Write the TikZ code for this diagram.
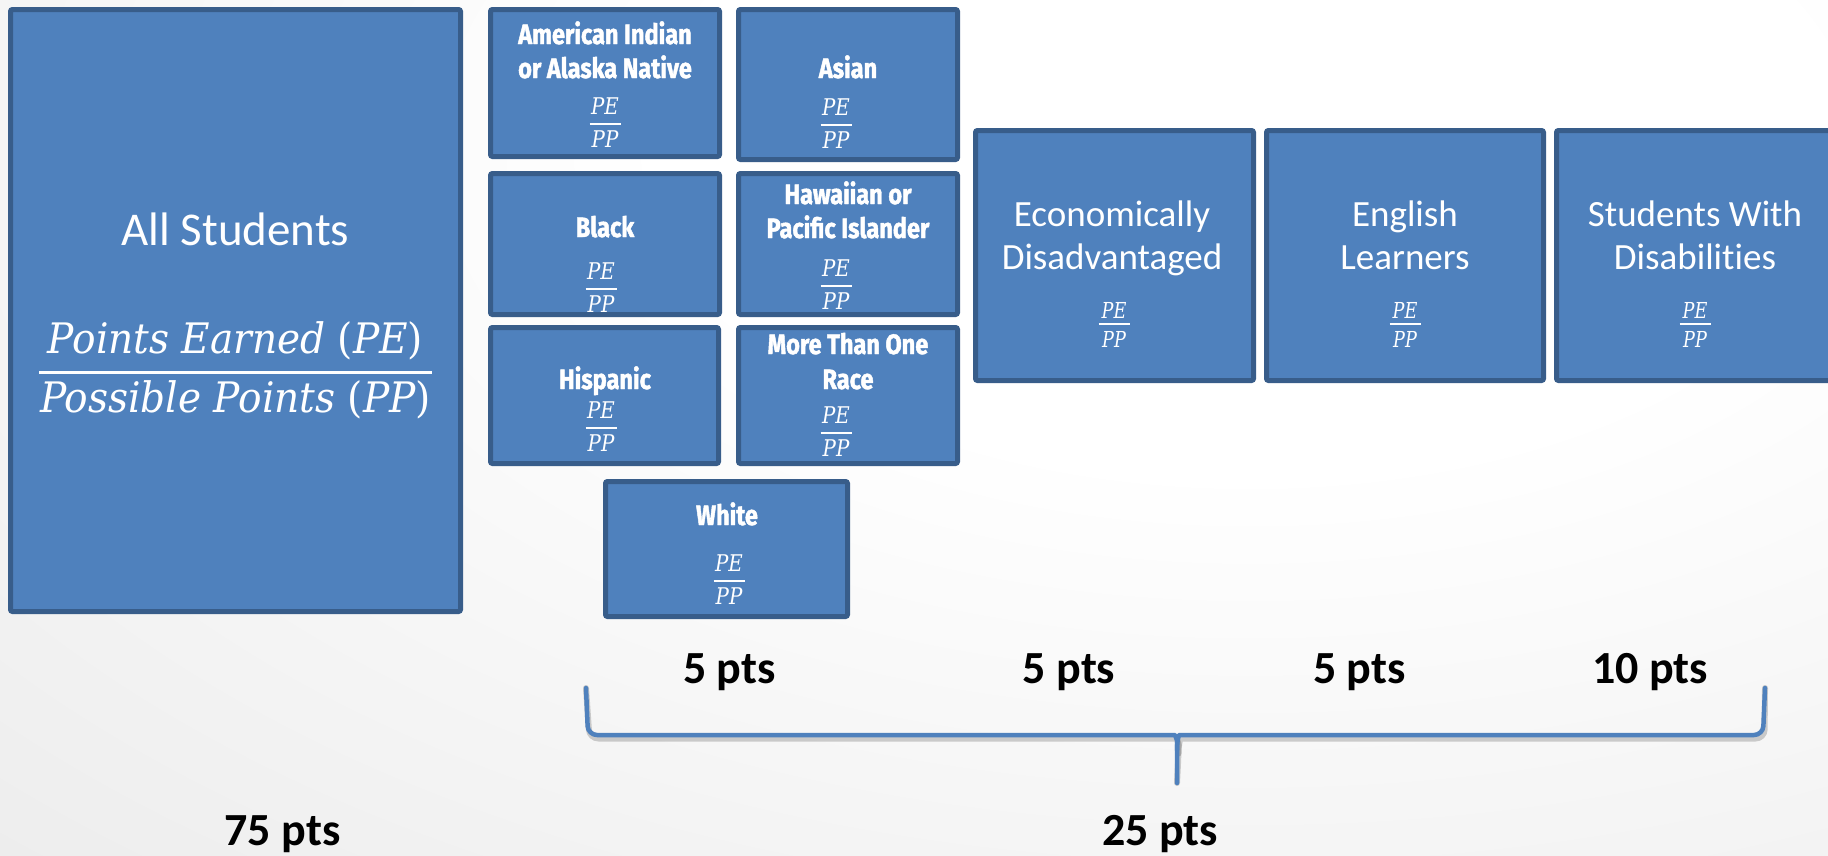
\RequirePackage{fix-cm}
\documentclass[tikz,border=0pt]{standalone}
\usepackage[no-math]{fontspec}
\setmainfont{Carlito}[Ligatures=NoCommon]
\newfontfamily\titlefont{Fira Sans}[FakeStretch=0.84, FakeBold=1.6]
\newfontfamily\serfA{DejaVu Serif}[FakeStretch=0.86]
\newfontfamily\serfB{DejaVu Serif}[FakeStretch=0.8]
\newfontfamily\serfC{DejaVu Serif}[FakeStretch=0.93]
\definecolor{boxfill}{HTML}{4F81BD}
\definecolor{boxline}{HTML}{385D8A}
\definecolor{bggray}{HTML}{E1E1E1}
\pgfdeclareradialshading{bgrad}{\pgfpoint{0bp}{0bp}}{color(0bp)=(white); color(8bp)=(white); color(36bp)=(bggray); color(50bp)=(bggray)}
\tikzset{
  box/.style={draw=boxline, fill=boxfill, line width=5pt, rounded corners=2pt, inner sep=0pt},
  wtxt/.style={text=white, inner sep=0pt, anchor=base},
  grouptitle/.style={wtxt, font={\titlefont\bfseries\fontsize{28}{32}\selectfont}},
  bigtitle/.style={wtxt, font={\fontsize{37}{44}\selectfont}},
  ptslabel/.style={text=black, inner sep=0pt, anchor=base, font={\bfseries\fontsize{46}{52}\selectfont}},
  fracbar/.style={draw=white, line width=2pt},
  bracestyle/.style={draw=boxfill, line width=4.5pt, line cap=round, line join=round},
  braceshadow/.style={draw=black, opacity=0.18, line width=6pt, line cap=round, line join=round}
}
\newcommand\gfrac[3]{%
  \node[wtxt, font={\serfA\itshape\fontsize{23}{27}\selectfont}] (#1n) at ({#2},{#3-10}) {PE};
  \node[wtxt, font={\serfA\itshape\fontsize{23}{27}\selectfont}] (#1d) at ({#2},{#3+23}) {PP};
  \draw[fracbar] ({#2-15.5},{#3}) -- ({#2+15.5},{#3});}
\newcommand\rfrac[3]{%
  \node[wtxt, font={\serfB\itshape\fontsize{22}{26}\selectfont}] (#1n) at ({#2},{#3-6}) {PE};
  \node[wtxt, font={\serfB\itshape\fontsize{22}{26}\selectfont}] (#1d) at ({#2},{#3+23}) {PP};
  \draw[fracbar] ({#2-15.5},{#3}) -- ({#2+15.5},{#3});}
\begin{document}
\begin{tikzpicture}[x=1pt, y=-1pt]
\useasboundingbox (0,0) rectangle (1828,855);
% background
\begin{scope}
\clip (0,0) rectangle (1828,855);
\shade[shading=bgrad] (-550,-850) rectangle (3050,1150);
\end{scope}

% All students
\node[box, minimum width=450pt, minimum height=602pt] (allst) at (235.5,310.5) {};
\node[wtxt, font={\fontsize{47}{56}\selectfont}] (allt) at (235.5,245) {All Students};
\node[wtxt, font={\serfC\fontsize{42}{50}\selectfont}] (alln) at (235.5,353) {{\itshape Points Earned} ({\itshape PE})};
\node[wtxt, font={\serfC\fontsize{42}{50}\selectfont}] (alld) at (235.5,412) {{\itshape Possible Points} ({\itshape PP})};
\draw[draw=white, line width=3pt] (39,372.5) -- (432,372.5);

% group boxes
\node[box, minimum width=229pt, minimum height=147pt] (ai) at (605,83) {};
\node[box, minimum width=219pt, minimum height=150pt] (asian) at (848,84.5) {};
\node[box, minimum width=229pt, minimum height=141pt] (black) at (605,244) {};
\node[box, minimum width=219pt, minimum height=141pt] (haw) at (848,244) {};
\node[box, minimum width=228pt, minimum height=136pt] (hisp) at (604.5,395.5) {};
\node[box, minimum width=219pt, minimum height=136pt] (mtor) at (848,395.5) {};
\node[box, minimum width=242pt, minimum height=135pt] (white) at (726.5,549) {};

\node[grouptitle] (ait1) at (605,44) {American Indian};
\node[grouptitle] (ait2) at (605,78) {or Alaska Native};
\node[grouptitle] (asiant) at (848,78) {Asian};
\node[grouptitle] (blackt) at (605,237) {Black};
\node[grouptitle] (hawt1) at (848,204) {Hawaiian or};
\node[grouptitle] (hawt2) at (848,238) {Pacific Islander};
\node[grouptitle] (hispt) at (605,389) {Hispanic};
\node[grouptitle] (mtort1) at (848,354) {More Than One};
\node[grouptitle] (mtort2) at (848,389) {Race};
\node[grouptitle] (whitet) at (727,525) {White};

\gfrac{aif}{605}{124}
\gfrac{asianf}{836}{125}
\gfrac{blackf}{601}{289}
\gfrac{hawf}{836}{286}
\gfrac{hispf}{601}{428}
\gfrac{mtorf}{836}{433}
\gfrac{whitef}{729}{581}

% right boxes
\node[box, minimum width=278pt, minimum height=250pt] (econ) at (1114.5,255.5) {};
\node[box, minimum width=277pt, minimum height=250pt] (engl) at (1405,255.5) {};
\node[box, minimum width=277pt, minimum height=250pt] (swd) at (1695,255.5) {};

\node[bigtitle] (econt1) at (1112,226) {Economically};
\node[bigtitle] (econt2) at (1112,269) {Disadvantaged};
\node[bigtitle] (englt1) at (1405,226) {English};
\node[bigtitle] (englt2) at (1405,269) {Learners};
\node[bigtitle] (swdt1) at (1695,226) {Students With};
\node[bigtitle] (swdt2) at (1695,269) {Disabilities};

\rfrac{econf}{1114}{324}
\rfrac{englf}{1405}{324}
\rfrac{swdf}{1695}{324}

% points labels
\node[ptslabel] (p1) at (729.5,683) {5 pts};
\node[ptslabel] (p2) at (1069,683) {5 pts};
\node[ptslabel] (p3) at (1359.5,683) {5 pts};
\node[ptslabel] (p4) at (1650,683) {10 pts};
\node[ptslabel] (p75) at (282.5,845) {75 pts};
\node[ptslabel] (p25) at (1160,845) {25 pts};

% brace
\coordinate (bl) at (586,688);
\coordinate (br) at (1765,688);
\coordinate (bt) at (1177,783);
\begin{scope}[shift={(1.5,3.5)}]
\draw[braceshadow, rounded corners=9pt] (bl) -- (588,735) -- (1166,735) .. controls (1175,735) and (1177,740) .. (1177,750) -- (bt);
\draw[braceshadow, rounded corners=9pt] (br) -- (1763,735) -- (1188,735) .. controls (1179,735) and (1177,740) .. (1177,750);
\end{scope}
\draw[bracestyle, rounded corners=9pt] (bl) -- (588,735) -- (1166,735) .. controls (1175,735) and (1177,740) .. (1177,750) -- (bt);
\draw[bracestyle, rounded corners=9pt] (br) -- (1763,735) -- (1188,735) .. controls (1179,735) and (1177,740) .. (1177,750);
\end{tikzpicture}
\end{document}
